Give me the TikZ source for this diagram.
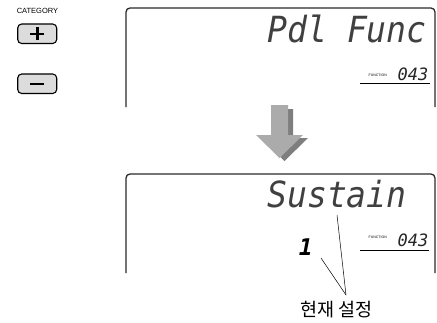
\documentclass[tikz,border=0pt]{standalone}
\usepackage{fontspec}
\setmainfont{Liberation Sans}
\newfontfamily\lcdfont{DejaVu Sans Mono}
\newfontfamily\krfont{Noto Sans CJK KR}
\definecolor{btnfill}{HTML}{DCDCDC}
\definecolor{arrlight}{HTML}{ABABAB}
\definecolor{arrdark}{HTML}{7E7E7E}
\definecolor{framecol}{HTML}{2A2A2A}
\begin{document}
\begin{tikzpicture}[x=1pt,y=-1pt,
  lcdbig/.style={inner sep=0pt,anchor=base east,text=black!75,xscale=0.92,
    font=\lcdfont\itshape\fontsize{36}{36}\selectfont},
  lcdnum/.style={inner sep=0pt,anchor=base east,text=black!85,
    font=\lcdfont\itshape\fontsize{17}{17}\selectfont},
  fnlabel/.style={inner sep=0pt,anchor=east,font=\fontsize{3.5}{3.5}\selectfont},
  dispframe/.style={draw=framecol,line width=1.3pt,rounded corners=4pt},
  btn/.style={draw=black,line width=1.1pt,fill=btnfill,rounded corners=4pt},
  sign/.style={line width=2.6pt},
  pointer/.style={line width=0.5pt}]
\useasboundingbox (0,0) rectangle (437,322);
% category buttons
\node[inner sep=0pt,font=\fontsize{7.5}{7.5}\selectfont] (cat) at (37.5,11) {CATEGORY};
\draw[btn] (17.7,24) rectangle (56.7,43.5);
\draw[btn] (17.7,74) rectangle (56.7,93.5);
\coordinate (plusc) at (37.2,33.8);
\coordinate (minusc) at (37.2,83.8);
\draw[sign] ([xshift=-7pt]plusc) -- ([xshift=7pt]plusc);
\draw[sign] ([yshift=-6.5pt]plusc) -- ([yshift=6.5pt]plusc);
\draw[sign] ([xshift=-7pt]minusc) -- ([xshift=7pt]minusc);
% top display
\draw[dispframe] (126,107) -- (126,8) -- (435,8) -- (435,107);
\node[lcdbig] (pdl) at (427,42) {Pdl Func};
\node[lcdnum] (num1) at (428.5,80) {043};
\node[fnlabel] (fn1) at (387,75) {FUNCTION};
\draw[line width=0.8pt] (360,83.5) -- (430,83.5);
% arrow
\begin{scope}[shift={(5,3)}]
\fill[arrdark] (271,106) -- (288,106) -- (288,135) -- (303,135) -- (279.5,158) -- (256,135) -- (271,135) -- cycle;
\end{scope}
\fill[arrlight] (271,105) -- (288,105) -- (288,135) -- (303,135) -- (279.5,158) -- (256,135) -- (271,135) -- cycle;
% bottom display
\draw[dispframe] (126,273) -- (126,174) -- (435,174) -- (435,273);
\node[lcdbig] (sus) at (407,207) {Sustain};
\node[lcdnum] (num2) at (428.5,246) {043};
\node[fnlabel] (fn2) at (387,237) {FUNCTION};
\draw[line width=0.8pt] (360,250) -- (429,250);
\node[inner sep=0pt,anchor=base east,text=black,
  font=\lcdfont\itshape\bfseries\fontsize{23}{23}\selectfont] (one) at (313,255) {1};
% label and pointers
\node[inner sep=0pt,font=\krfont\fontsize{18.5}{18.5}\selectfont] (cur) at (336.5,310) {현재 설정};
\coordinate (meet) at (346,295);
\coordinate (susp) at (337,215);
\coordinate (onep) at (321,258);
\draw[pointer] (susp) -- (meet);
\draw[pointer] (onep) -- (meet);
\end{tikzpicture}
\end{document}
